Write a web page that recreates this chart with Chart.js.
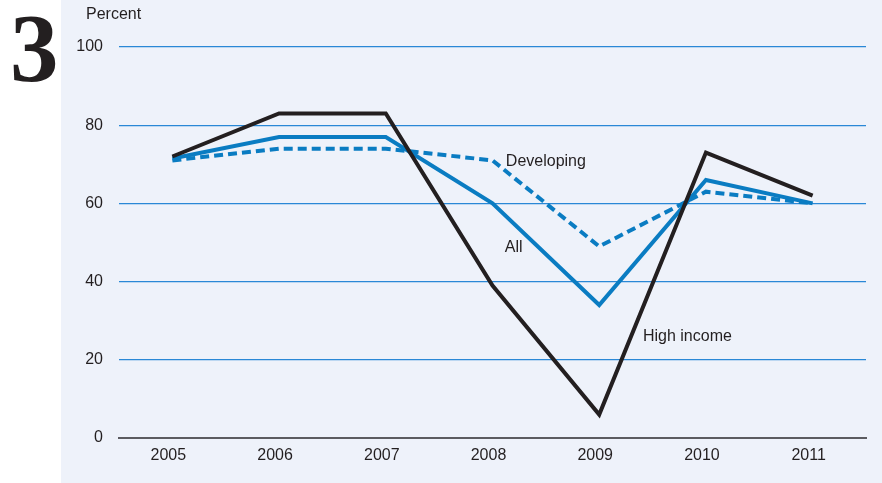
<!DOCTYPE html>
<html>
<head>
<meta charset="utf-8">
<script src="https://cdn.jsdelivr.net/npm/chart.js@4/dist/chart.umd.min.js"></script>
<style>
  html, body { margin: 0; padding: 0; background: #ffffff; }
  #wrap { position: relative; width: 882px; height: 483px; }
  canvas { display: block; }
</style>
</head>
<body>
<div id="wrap"><canvas id="c" width="882" height="483"></canvas></div>
<script>
// ---- data ----
const years = ['2005', '2006', '2007', '2008', '2009', '2010', '2011'];
const highIncome = [72, 83, 83, 39, 6, 73, 62];
const allCountries = [71.5, 77, 77, 60, 34, 66, 60];
const developing = [71, 74, 74, 71, 49, 63, 60];
const yTicks = [0, 20, 40, 60, 80, 100];
const figureNumber = '3';
const unitLabel = 'Percent';
const seriesNames = ['High income', 'All', 'Developing'];

// in-chart series labels (anchored in data space: category index, value)
const seriesLabels = [
  { text: seriesNames[2], idx: 3.125, val: 70.8 },
  { text: seriesNames[1], idx: 3.115, val: 48.7 },
  { text: seriesNames[0], idx: 4.41, val: 25.9 }
];

const FONT = "'Liberation Sans', Arial, sans-serif";
const TEXT = '#231f20';
const BLUE = '#0a7cc2';
const GRID = '#2a88d6';
const PANEL = '#eef2fa';

const decor = {
  id: 'decor',
  beforeDraw(chart) {
    const ctx = chart.ctx;
    ctx.save();
    ctx.fillStyle = '#ffffff';
    ctx.fillRect(0, 0, chart.width, chart.height);
    ctx.fillStyle = PANEL;
    ctx.fillRect(61, 0, chart.width - 61, chart.height);
    // big figure number
    ctx.fillStyle = TEXT;
    ctx.font = "bold 97px 'Liberation Serif', serif";
    ctx.textAlign = 'left';
    ctx.textBaseline = 'alphabetic';
    ctx.fillText(figureNumber, 10, 81);
    // unit label
    ctx.font = '16px ' + FONT;
    ctx.textBaseline = 'middle';
    ctx.fillText(unitLabel, 86, 15);
    ctx.restore();
  },
  afterDatasetsDraw(chart) {
    const ctx = chart.ctx;
    const xs = chart.scales.x, ys = chart.scales.y;
    const step = xs.getPixelForValue(1) - xs.getPixelForValue(0);
    ctx.save();
    ctx.fillStyle = TEXT;
    ctx.font = '16px ' + FONT;
    ctx.textAlign = 'left';
    ctx.textBaseline = 'middle';
    seriesLabels.forEach(l => {
      const x = xs.getPixelForValue(0) + l.idx * step;
      const y = ys.getPixelForValue(l.val);
      ctx.fillText(l.text, x, y);
    });
    ctx.restore();
  }
};

new Chart(document.getElementById('c'), {
  type: 'line',
  data: {
    labels: years,
    datasets: [
      { label: seriesNames[0], data: highIncome, borderColor: '#231f20', borderWidth: 4, order: 0 },
      { label: seriesNames[1], data: allCountries, borderColor: BLUE, borderWidth: 4, order: 1 },
      { label: seriesNames[2], data: developing, borderColor: BLUE, borderWidth: 4, borderDash: [9, 5], order: 2 }
    ]
  },
  options: {
    responsive: false,
    animation: false,
    devicePixelRatio: 1,
    layout: { padding: { top: 47, right: 16, left: 0, bottom: 0 } },
    elements: {
      line: { tension: 0, fill: false, borderJoinStyle: 'miter', borderCapStyle: 'butt' },
      point: { radius: 0, hoverRadius: 0 }
    },
    plugins: { legend: { display: false }, tooltip: { enabled: false } },
    scales: {
      x: {
        offset: true,
        grid: { display: false, drawTicks: false },
        border: { display: true, color: '#5b5b60', width: 2, z: 1 },
        ticks: { color: TEXT, font: { family: FONT, size: 16 }, padding: 8, labelOffset: -4, maxRotation: 0, autoSkip: false },
        afterFit(s) { s.height = 45; }
      },
      y: {
        min: 0, max: 100,
        afterBuildTicks(s) { s.ticks = yTicks.map(v => ({ value: v })); },
        grid: { drawTicks: false, lineWidth: 1.3, color: GRID },
        border: { display: false },
        ticks: { color: TEXT, font: { family: FONT, size: 16 }, padding: 16 },
        afterFit(s) { s.width = 119; }
      }
    }
  },
  plugins: [decor]
});
</script>
</body>
</html>
